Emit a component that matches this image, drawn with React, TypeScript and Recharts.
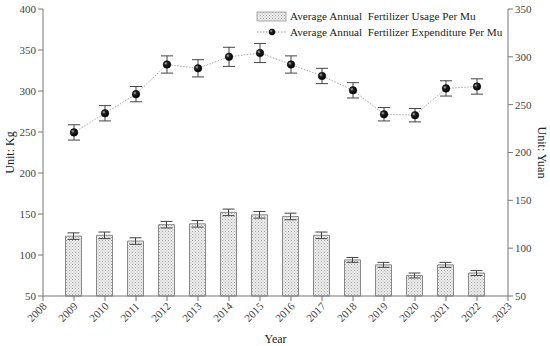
import {
  ComposedChart,
  Bar,
  Line,
  XAxis,
  YAxis,
  ErrorBar,
  Label,
} from "recharts";

const years = [2009, 2010, 2011, 2012, 2013, 2014, 2015, 2016, 2017, 2018, 2019, 2020, 2021, 2022];
const usage = [123, 124, 117, 137, 138, 152, 149, 147, 124, 94, 88, 75, 88, 78];
const usageErr = [4, 4, 4, 4, 4, 4, 4, 4, 4, 3, 3, 3, 3, 3];
const expenditure = [221, 241, 261, 292, 288, 300, 304, 292, 280, 265, 240, 239, 267, 269];
const expenditureErr = [8, 8, 8, 9, 9, 10, 10, 9, 8, 8, 7, 7, 8, 8];

const xTicks = [2008, 2009, 2010, 2011, 2012, 2013, 2014, 2015, 2016, 2017, 2018, 2019, 2020, 2021, 2022, 2023];
const leftTicks = [50, 100, 150, 200, 250, 300, 350, 400];
const rightTicks = [50, 100, 150, 200, 250, 300, 350];

const data = years.map((y, i) => ({
  year: y,
  usage: usage[i],
  usageErr: usageErr[i],
  expenditure: expenditure[i],
  expenditureErr: expenditureErr[i],
}));

const font = "'Liberation Serif', 'DejaVu Serif', serif";
const axisColor = "#777";

const YearTick = (props: any) => {
  const { x, y, payload } = props;
  return (
    <text
      x={x}
      y={y + 12}
      transform={`rotate(-45 ${x - 2} ${y + 16})`}
      textAnchor="middle"
      fontSize={11}
      fontFamily={font}
      fill="#444"
    >
      {payload.value}
    </text>
  );
};

const Ball = (props: any) => {
  const { cx, cy } = props;
  if (cx == null || cy == null) return null;
  return <circle cx={cx} cy={cy} r={3.8} fill="url(#ball)" stroke="#000" strokeWidth={0.5} />;
};

// legend drawn as a plain overlay so it does not take space from the plot
const LegendBox = () => (
  <svg
    width={260}
    height={40}
    style={{ position: "absolute", left: 254, top: 3, fontFamily: font, overflow: "visible" }}
  >
    <defs>
      <pattern id="hatchL" width="3" height="3" patternUnits="userSpaceOnUse">
        <rect width="3" height="3" fill="#ececec" />
        <rect width="1" height="1" fill="#a8a8a8" />
        <rect x="1.5" y="1.5" width="1" height="1" fill="#bdbdbd" />
      </pattern>
      <radialGradient id="ballL" cx="35%" cy="35%" r="65%">
        <stop offset="0%" stopColor="#bbb" />
        <stop offset="35%" stopColor="#222" />
        <stop offset="100%" stopColor="#000" />
      </radialGradient>
    </defs>
    <rect x={3} y={9} width={29} height={9} fill="url(#hatchL)" stroke="#999" strokeWidth={0.8} />
    <text x={36} y={17} fontSize={11.2} fill="#222" style={{ whiteSpace: "pre" }}>
      {"Average Annual  Fertilizer Usage Per Mu"}
    </text>
    <line x1={3} y1={29} x2={32} y2={29} stroke="#999" strokeDasharray="1.5 1.5" />
    <circle cx={18} cy={29} r={3} fill="url(#ballL)" stroke="#000" strokeWidth={0.5} />
    <text x={36} y={33} fontSize={11.2} fill="#222" style={{ whiteSpace: "pre" }}>
      {"Average Annual  Fertilizer Expenditure Per Mu"}
    </text>
  </svg>
);

export default function App() {
  return (
    <div style={{ position: "absolute", left: 0, top: 0, width: 550, height: 346, background: "#fff" }}>
      <ComposedChart
        width={550}
        height={346}
        data={data}
        margin={{ top: 9, right: 0, bottom: 0, left: 0 }}
      >
        <defs>
          <pattern id="hatch" width="3" height="3" patternUnits="userSpaceOnUse">
            <rect width="3" height="3" fill="#ececec" />
            <rect width="1" height="1" fill="#a8a8a8" />
            <rect x="1.5" y="1.5" width="1" height="1" fill="#bdbdbd" />
          </pattern>
          <radialGradient id="ball" cx="35%" cy="35%" r="65%">
            <stop offset="0%" stopColor="#bbb" />
            <stop offset="35%" stopColor="#222" />
            <stop offset="100%" stopColor="#000" />
          </radialGradient>
        </defs>
        <XAxis
          dataKey="year"
          type="number"
          domain={[2008, 2023]}
          ticks={xTicks}
          interval={0}
          height={50}
          stroke={axisColor}
          tickSize={5}
          tick={<YearTick />}
        >
          <Label value="Year" position="insideBottom" offset={0} fontSize={12} fontFamily={font} fill="#222" dy={-3} />
        </XAxis>
        <YAxis
          yAxisId="left"
          domain={[50, 400]}
          ticks={leftTicks}
          width={43}
          stroke={axisColor}
          tickSize={5}
          tick={{ fontSize: 11, fontFamily: font, fill: "#444" }}
        >
          <Label
            value="Unit: Kg"
            angle={-90}
            position="insideLeft"
            offset={10}
            style={{ textAnchor: "middle" }}
            fontSize={12}
            fontFamily={font}
            fill="#222"
          />
        </YAxis>
        <YAxis
          yAxisId="right"
          orientation="right"
          domain={[50, 350]}
          ticks={rightTicks}
          width={42}
          stroke={axisColor}
          tickSize={5}
          tick={{ fontSize: 11, fontFamily: font, fill: "#444" }}
        >
          <Label
            value="Unit: Yuan"
            angle={90}
            position="insideRight"
            offset={8}
            style={{ textAnchor: "middle" }}
            fontSize={12}
            fontFamily={font}
            fill="#222"
          />
        </YAxis>
        <Bar
          yAxisId="left"
          dataKey="usage"
          barSize={16}
          fill="url(#hatch)"
          stroke="#888"
          strokeWidth={1}
          isAnimationActive={false}
        >
          <ErrorBar dataKey="usageErr" width={6} stroke="#444" strokeWidth={1} direction="y" />
        </Bar>
        <Line
          yAxisId="right"
          dataKey="expenditure"
          stroke="#aaa"
          strokeWidth={1}
          strokeDasharray="1.5 1.5"
          dot={<Ball />}
          activeDot={false}
          isAnimationActive={false}
        >
          <ErrorBar dataKey="expenditureErr" width={6} stroke="#444" strokeWidth={1} direction="y" />
        </Line>
      </ComposedChart>
      <LegendBox />
    </div>
  );
}
